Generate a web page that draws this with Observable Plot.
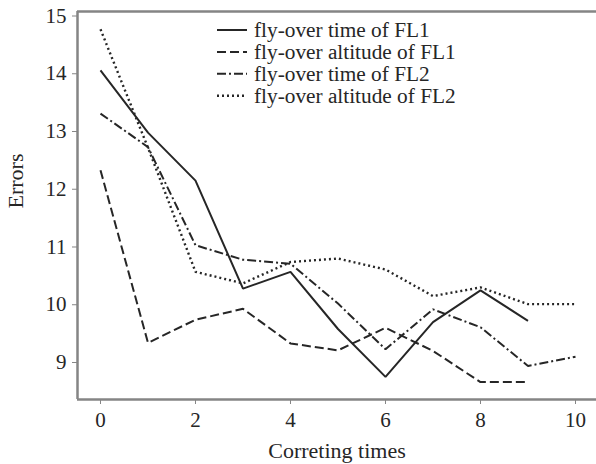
<!DOCTYPE html>
<html>
<head>
<meta charset="utf-8">
<script src="https://cdn.jsdelivr.net/npm/d3@7"></script>
<script src="https://cdn.jsdelivr.net/npm/@observablehq/plot@0.6"></script>
<style>
  html, body { margin: 0; padding: 0; background: #fff; }
  #chart { width: 596px; height: 464px; overflow: hidden; }
</style>
</head>
<body>
<div id="chart"></div>
<script>
// Data
const steps = [0, 1, 2, 3, 4, 5, 6, 7, 8, 9, 10];
const timeFL1 = [14.06, 12.98, 12.15, 10.28, 10.57, 9.58, 8.75, 9.70, 10.25, 9.72];
const altFL1  = [12.33, 9.34, 9.74, 9.93, 9.33, 9.21, 9.60, 9.20, 8.66, 8.66];
const timeFL2 = [13.31, 12.73, 11.03, 10.78, 10.71, 10.02, 9.23, 9.92, 9.61, 8.94, 9.10];
const altFL2  = [14.77, 12.72, 10.57, 10.37, 10.74, 10.80, 10.61, 10.15, 10.30, 10.01, 10.01];
const seriesNames = ["fly-over time of FL1", "fly-over altitude of FL1", "fly-over time of FL2", "fly-over altitude of FL2"];
const seriesValues = [timeFL1, altFL1, timeFL2, altFL2];
const xTicks = [0, 2, 4, 6, 8, 10];
const yTicks = [9, 10, 11, 12, 13, 14, 15];
const xLabel = "Correting times";
const yLabel = "Errors";

const xDomain = [-0.484, 10.442];
const yDomain = [8.359, 15.078];
const dashes = [null, "9,4", "9,3,2,3", "2,3"];
const widths = [2, 2, 2, 2.4];
const ink = "#262626";
const axisGray = "#858585";
const font = "Liberation Serif, Times New Roman, serif";

const rows = [];
seriesValues.forEach((vals, i) => vals.forEach((v, j) => rows.push({series: seriesNames[i], x: steps[j], y: v})));

const lineMarks = seriesNames.map((name, i) =>
  Plot.line(rows.filter(d => d.series === name), {
    x: "x", y: "y", stroke: ink, strokeWidth: widths[i],
    strokeDasharray: dashes[i], strokeLinejoin: "miter", strokeLinecap: "butt"
  })
);

const chart = Plot.plot({
  width: 596,
  height: 464,
  marginLeft: 77,
  marginRight: 0,
  marginTop: 11,
  marginBottom: 65,
  style: {fontFamily: font, fontSize: "21px", color: ink, background: "#fff"},
  x: {domain: xDomain, label: null},
  y: {domain: yDomain, label: null},
  marks: [
    ...lineMarks,
    Plot.ruleY([yDomain[0]], {stroke: axisGray, strokeWidth: 2.5}),
    Plot.ruleY([yDomain[1]], {stroke: axisGray, strokeWidth: 2.5}),
    Plot.ruleX([xDomain[0]], {stroke: axisGray, strokeWidth: 2.5}),
    Plot.axisX({ticks: xTicks, tickSize: 5, tickPadding: 8, stroke: axisGray, fill: ink,
      fontSize: 21, fontFamily: font, tickFormat: d3.format("d"), label: null}),
    Plot.axisY({ticks: yTicks, tickSize: 5, tickPadding: 6, stroke: axisGray, fill: ink,
      fontSize: 21, fontFamily: font, tickFormat: d3.format("d"), label: null}),
    Plot.text([xLabel], {frameAnchor: "bottom", dy: 51, fontSize: 22, fontFamily: font, fill: ink, lineAnchor: "middle"}),
    Plot.text([yLabel], {frameAnchor: "left", dx: -62, dy: 3, rotate: -90, fontSize: 22, fontFamily: font, fill: ink, lineAnchor: "middle"})
  ]
});

document.getElementById("chart").append(chart);

// Legend inside the plot area (upper middle)
const svg = d3.select(chart);
const lg = svg.append("g").attr("transform", "translate(217,30)");
seriesNames.forEach((name, i) => {
  const g = lg.append("g").attr("transform", `translate(0,${i * 21.9})`);
  g.append("line").attr("x1", 0).attr("x2", 30).attr("y1", 0).attr("y2", 0)
    .attr("stroke", ink).attr("stroke-width", widths[i])
    .attr("stroke-dasharray", dashes[i]);
  g.append("text").attr("x", 37).attr("y", 0).attr("dy", "0.32em")
    .attr("text-anchor", "start")
    .attr("font-family", font).attr("font-size", 21.3).attr("fill", ink)
    .text(name);
});
</script>
</body>
</html>
